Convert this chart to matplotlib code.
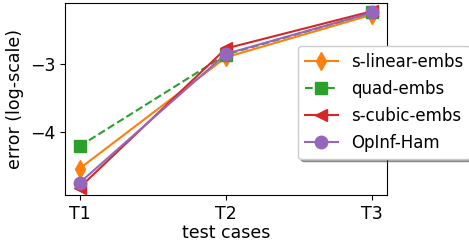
import matplotlib
matplotlib.use('Agg')
import matplotlib.pyplot as plt

# Test cases and log10 errors
cases = ['T1', 'T2', 'T3']
s_linear = [-4.54, -2.90, -2.27]
quad = [-4.21, -2.86, -2.24]
s_cubic = [-4.82, -2.77, -2.22]
opinf_ham = [-4.75, -2.85, -2.24]

plt.rcParams['font.size'] = 12.5

fig = plt.figure(figsize=(4.69, 2.46), dpi=100)
ax = fig.add_axes([65 / 469, 1 - 195 / 246, 322 / 469, 192 / 246])

x = range(len(cases))
ax.plot(x, s_linear, '-', marker='d', color='tab:orange', markersize=9, label='s-linear-embs')
ax.plot(x, quad, '--', marker='s', color='tab:green', markersize=9, label='quad-embs')
ax.plot(x, s_cubic, '-', marker='<', color='tab:red', markersize=9, label='s-cubic-embs')
ax.plot(x, opinf_ham, '-', marker='o', color='tab:purple', markersize=9, label='OpInf-Ham')

ax.set_xticks(list(x))
ax.set_xticklabels(cases)
ax.set_yticks([-3, -4])
ax.set_xlim(-0.1, 2.1)
ax.set_ylim(-4.93, -2.10)
ax.set_xlabel('test cases', labelpad=1)
ax.set_ylabel('error (log-scale)')

ax.legend(loc='upper left', bbox_to_anchor=(0.724, 0.776), shadow=True,
          fontsize=12, borderaxespad=0, labelspacing=0.55, handletextpad=0.75)

fig.savefig('out.png', dpi=100)
